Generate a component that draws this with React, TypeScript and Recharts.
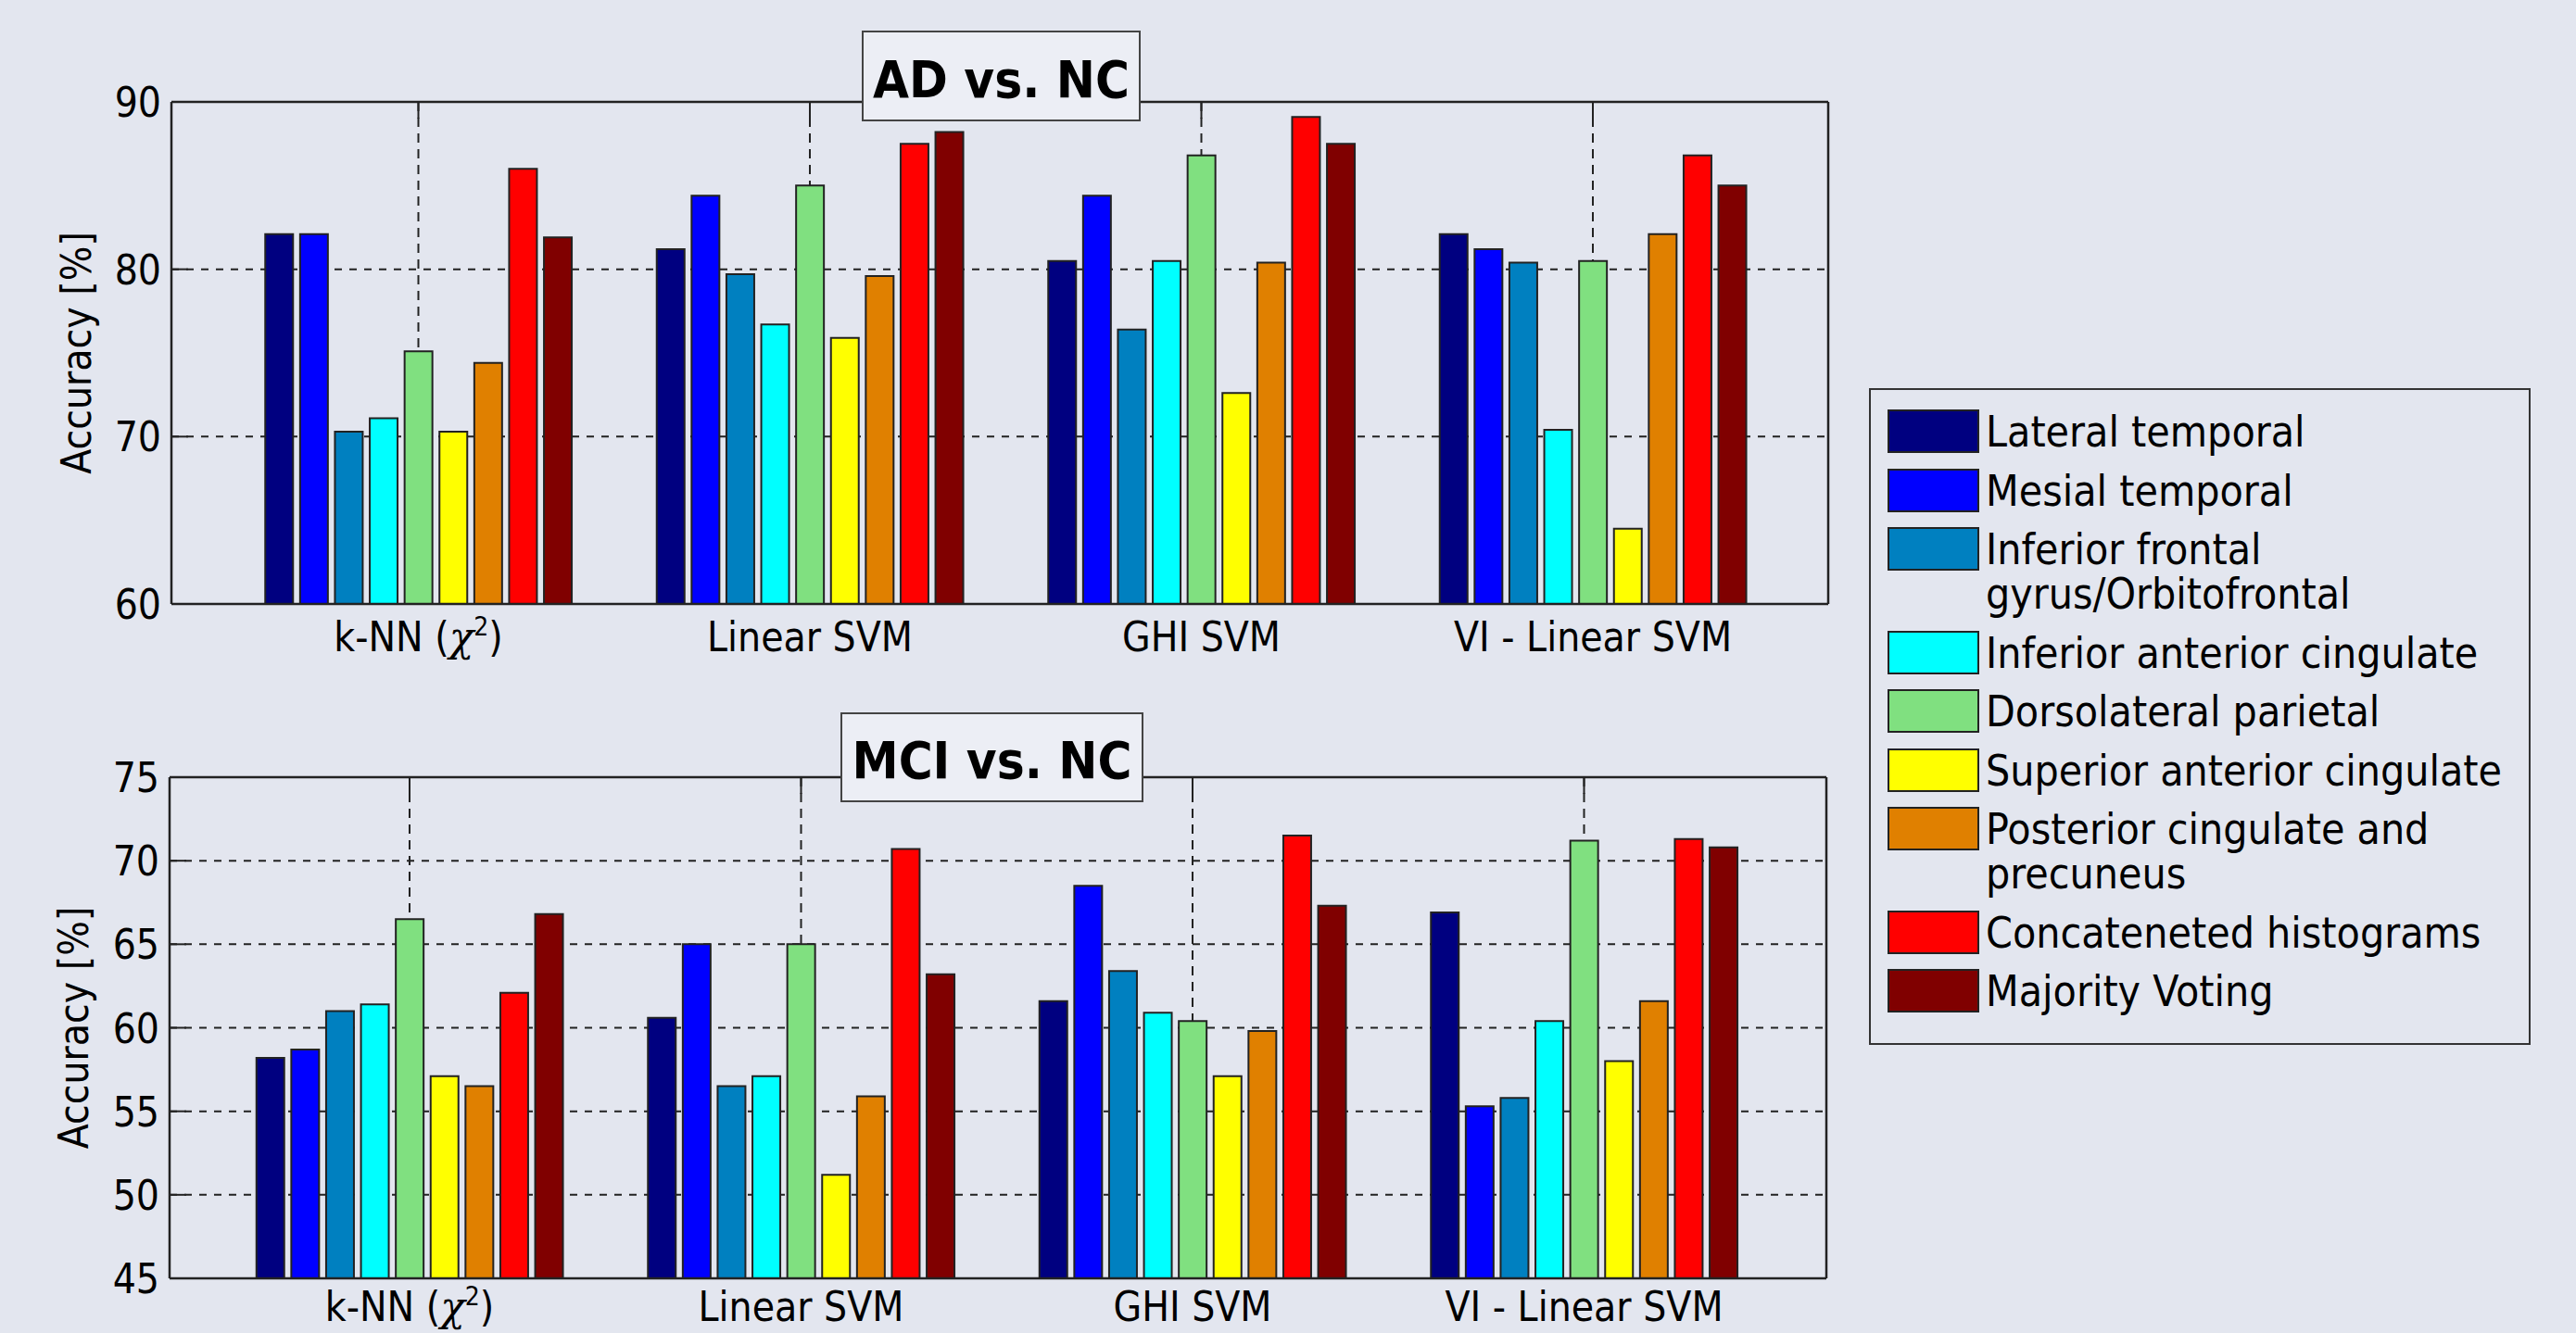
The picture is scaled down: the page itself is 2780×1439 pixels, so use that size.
import { BarChart, Bar, XAxis, YAxis, CartesianGrid, Legend } from "recharts";

const FONT = "'DejaVu Sans Condensed', 'DejaVu Sans', sans-serif";
const BG = "#e3e6ef";
const INK = "#222";

const methods = ["k-NN (χ2)", "Linear SVM", "GHI SVM", "VI - Linear SVM"];

const regions = [
  "Lateral temporal",
  "Mesial temporal",
  "Inferior frontal\ngyrus/Orbitofrontal",
  "Inferior anterior cingulate",
  "Dorsolateral parietal",
  "Superior anterior cingulate",
  "Posterior cingulate and\nprecuneus",
  "Concateneted histograms",
  "Majority Voting",
];

const colors = ["#000080", "#0000ff", "#0080c0", "#00ffff", "#80e080", "#ffff00", "#e08000", "#ff0000", "#800000"];

// AD vs. NC, one array per classifier, in region order
const adKnn = [82.1, 82.1, 70.3, 71.1, 75.1, 70.3, 74.4, 86.0, 81.9];
const adLinear = [81.2, 84.4, 79.7, 76.7, 85.0, 75.9, 79.6, 87.5, 88.2];
const adGhi = [80.5, 84.4, 76.4, 80.5, 86.8, 72.6, 80.4, 89.1, 87.5];
const adVi = [82.1, 81.2, 80.4, 70.4, 80.5, 64.5, 82.1, 86.8, 85.0];

// MCI vs. NC
const mciKnn = [58.2, 58.7, 61.0, 61.4, 66.5, 57.1, 56.5, 62.1, 66.8];
const mciLinear = [60.6, 65.0, 56.5, 57.1, 65.0, 51.2, 55.9, 70.7, 63.2];
const mciGhi = [61.6, 68.5, 63.4, 60.9, 60.4, 57.1, 59.8, 71.5, 67.3];
const mciVi = [66.9, 55.3, 55.8, 60.4, 71.2, 58.0, 61.6, 71.3, 70.8];

const adTicks = [60, 70, 80, 90];
const mciTicks = [45, 50, 55, 60, 65, 70, 75];

function toRows(rows: number[][]) {
  return methods.map((m, j) => {
    const row: Record<string, string | number> = { method: m };
    regions.forEach((_, i) => {
      row[`r${i}`] = rows[j][i];
    });
    return row;
  });
}

const adData = toRows([adKnn, adLinear, adGhi, adVi]);
const mciData = toRows([mciKnn, mciLinear, mciGhi, mciVi]);

function LeftTick(props: any) {
  const { x, y, payload } = props;
  return (
    <g>
      <line x1={x} x2={x + 18} y1={y} y2={y} stroke={INK} strokeWidth={2} />
      <text x={x - 11} y={y + 16} textAnchor="end" fontSize={44} fontFamily={FONT} fill="#000">
        {payload.value}
      </text>
    </g>
  );
}

function RightTick(props: any) {
  const { x, y } = props;
  return <line x1={x - 18} x2={x} y1={y} y2={y} stroke={INK} strokeWidth={2} />;
}

function TopTick(props: any) {
  const { x, y } = props;
  return <line x1={x} x2={x} y1={y} y2={y + 18} stroke={INK} strokeWidth={2} />;
}

function makeCatTick(dy: number) {
  return function CatTick(props: any) {
    const { x, y, payload } = props;
    const v = String(payload.value);
    if (v.startsWith("k-NN")) {
      return (
        <text x={x} y={y + dy} textAnchor="middle" fontSize={44} fontFamily={FONT} fill="#000">
          k-NN (
          <tspan fontFamily="'DejaVu Serif', serif" fontStyle="italic">χ</tspan>
          <tspan dy={-17} fontSize={28}>2</tspan>
          <tspan dy={17}>)</tspan>
        </text>
      );
    }
    return (
      <text x={x} y={y + dy} textAnchor="middle" fontSize={44} fontFamily={FONT} fill="#000">
        {v}
      </text>
    );
  };
}

const TopCatTick = makeCatTick(51);
const BottomCatTick = makeCatTick(46);

function yLabel(baseX: number) {
  return (props: any) => {
    const vb = props.viewBox || {};
    const cy = (vb.y ?? 0) + (vb.height ?? 0) / 2;
    return (
      <text
        transform={`translate(${baseX},${cy}) rotate(-90)`}
        textAnchor="middle"
        fontSize={44}
        fontFamily={FONT}
        fill="#000"
      >
        Accuracy [%]
      </text>
    );
  };
}

function RegionLegend() {
  return (
    <div
      style={{
        width: 714,
        height: 709,
        boxSizing: "border-box",
        border: "2px solid #333",
        padding: "21px 0 0 18px",
        background: BG,
        fontFamily: FONT,
        fontStretch: "condensed",
        fontSize: 46,
        color: "#000",
        textAlign: "left",
      }}
    >
      {regions.map((name, i) => (
        <div key={name} style={{ display: "flex", alignItems: "flex-start", marginBottom: 15.5 }}>
          <div
            style={{
              width: 99,
              height: 47,
              flexShrink: 0,
              boxSizing: "border-box",
              border: `2px solid ${INK}`,
              background: colors[i],
            }}
          />
          <div style={{ marginLeft: 7, lineHeight: "48px", whiteSpace: "pre-line" }}>{name}</div>
        </div>
      ))}
    </div>
  );
}

type PanelProps = {
  data: Record<string, string | number>[];
  domain: [number, number];
  ticks: number[];
  height: number;
  marginTop: number;
  marginRight: number;
  yAxisWidth: number;
  xAxisHeight: number;
  marginBottom: number;
  padLeft: number;
  padRight: number;
  labelX: number;
  catTick: (props: any) => any;
  withLegend?: boolean;
};

function Panel(p: PanelProps) {
  const CatTick = p.catTick;
  return (
    <BarChart
      width={2000}
      height={p.height}
      data={p.data}
      margin={{ top: p.marginTop, right: p.marginRight, left: 0, bottom: p.marginBottom }}
      barGap={7.6}
    >
      <CartesianGrid horizontal vertical={false} stroke={INK} strokeWidth={2} strokeDasharray="8 8" />
      <CartesianGrid horizontal={false} vertical stroke={INK} strokeWidth={2} strokeDasharray="10 7" />
      <XAxis
        dataKey="method"
        height={p.xAxisHeight}
        padding={{ left: p.padLeft, right: p.padRight }}
        axisLine={{ stroke: INK, strokeWidth: 2.5 }}
        tickLine={false}
        tickSize={0}
        tickMargin={0}
        tick={<CatTick />}
        interval={0}
      />
      <XAxis
        xAxisId="top"
        orientation="top"
        dataKey="method"
        height={1}
        padding={{ left: p.padLeft, right: p.padRight }}
        axisLine={{ stroke: INK, strokeWidth: 2.5 }}
        tickLine={false}
        tickSize={0}
        tickMargin={0}
        tick={<TopTick />}
        interval={0}
      />
      <YAxis
        type="number"
        domain={p.domain}
        ticks={p.ticks}
        interval={0}
        width={p.yAxisWidth}
        axisLine={{ stroke: INK, strokeWidth: 2.5 }}
        tickLine={false}
        tickSize={0}
        tickMargin={0}
        tick={<LeftTick />}
        label={yLabel(p.labelX)}
      />
      <YAxis
        yAxisId="right"
        orientation="right"
        type="number"
        domain={p.domain}
        ticks={p.ticks}
        interval={0}
        width={1}
        axisLine={{ stroke: INK, strokeWidth: 2.5 }}
        tickLine={false}
        tickSize={0}
        tickMargin={0}
        tick={<RightTick />}
      />
      {regions.map((name, i) => (
        <Bar
          key={name}
          dataKey={`r${i}`}
          name={name}
          fill={colors[i]}
          stroke={INK}
          strokeWidth={2}
          barSize={30}
          isAnimationActive={false}
        />
      ))}
      {p.withLegend && (
        <Legend
          layout="vertical"
          align="center"
          verticalAlign="middle"
          content={() => <RegionLegend />}
          wrapperStyle={{ left: 2017, top: 419, width: 714, zIndex: 5 }}
        />
      )}
    </BarChart>
  );
}

function TitleBox({ text, left, top, width, height }: { text: string; left: number; top: number; width: number; height: number }) {
  return (
    <div
      style={{
        position: "absolute",
        left,
        top,
        width,
        height,
        boxSizing: "border-box",
        border: "2px solid #444",
        background: "#eceef5",
        display: "flex",
        alignItems: "center",
        justifyContent: "center",
        paddingTop: 6,
        fontFamily: FONT,
        fontStretch: "condensed",
        fontWeight: "bold",
        fontSize: 56,
        color: "#000",
        zIndex: 6,
      }}
    >
      {text}
    </div>
  );
}

export default function App() {
  return (
    <div style={{ position: "absolute", left: 0, top: 0, width: 2780, height: 1439, background: BG, overflow: "hidden" }}>
      <div style={{ position: "absolute", left: 0, top: 0 }}>
        <Panel
          data={adData}
          domain={[60, 90]}
          ticks={adTicks}
          height={720}
          marginTop={109}
          marginRight={26}
          yAxisWidth={185}
          xAxisHeight={60}
          marginBottom={8}
          padLeft={55.25}
          padRight={42.75}
          labelX={98}
          catTick={TopCatTick}
          withLegend
        />
      </div>
      <div style={{ position: "absolute", left: 0, top: 730 }}>
        <Panel
          data={mciData}
          domain={[45, 75]}
          ticks={mciTicks}
          height={709}
          marginTop={108}
          marginRight={28}
          yAxisWidth={183}
          xAxisHeight={55}
          marginBottom={4}
          padLeft={47.75}
          padRight={50.25}
          labelX={95}
          catTick={BottomCatTick}
        />
      </div>
      <TitleBox text="AD vs. NC" left={930} top={33} width={301} height={98} />
      <TitleBox text="MCI vs. NC" left={907} top={769} width={327} height={97} />
    </div>
  );
}
